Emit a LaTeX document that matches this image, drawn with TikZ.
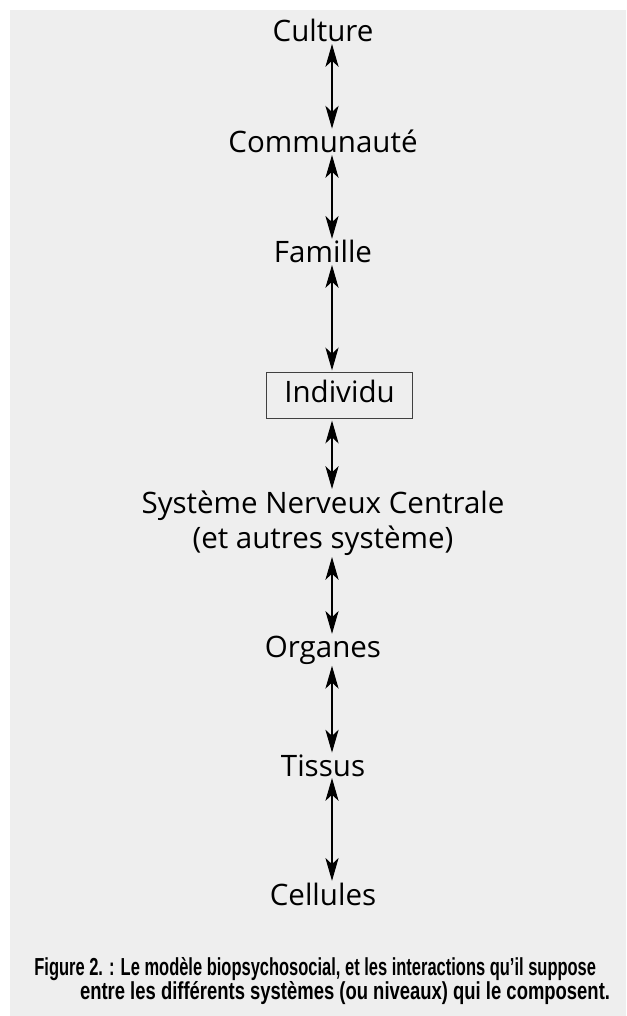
\documentclass[tikz,border=0pt]{standalone}
\usepackage{fontspec}
\setmainfont{Open Sans}
\newfontfamily\legendefont[FakeStretch=0.67]{Liberation Sans}
\newfontfamily\legendesuite[FakeStretch=0.75]{Liberation Sans}
\usetikzlibrary{arrows.meta}
\definecolor{fond}{HTML}{EEEEEE}

\begin{document}
\begin{tikzpicture}[>={Stealth[length=13pt,width=7.5pt,inset=3.5pt]}, x=0.02cm, y=-0.02cm,
  niveau/.style={inner sep=0pt, outer sep=1pt, font=\fontsize{16.8}{19.8}\selectfont, align=center},
  legende/.style={inner sep=0pt, font=\legendefont\bfseries\fontsize{14}{13.6}\selectfont, align=left},
  fleche/.style={<->, line width=0.6pt}]
  \useasboundingbox (0,0) rectangle (626,1016);
  \fill[fond] (10,10) rectangle (626,1016);
  \coordinate (a) at (332,0);
  \node[niveau, anchor=base] (C) at (323,42) {Culture};
  \node[niveau, anchor=base] (Co) at (323,153) {Communauté};
  \node[niveau, anchor=base] (F) at (323,263) {Famille};
  \node[niveau, draw=black!75, line width=0.7pt, minimum width=83.3pt, minimum height=26.6pt,
        text height=11.8pt, text depth=4.2pt] (I) at (339.5,395.5) {Individu};
  \node[niveau, anchor=north] (S) at (323,489) {Système Nerveux Centrale\\(et autres système)};
  \node[niveau, anchor=base] (O) at (323,657) {Organes};
  \node[niveau, anchor=base] (T) at (323,776) {Tissus};
  \node[niveau, anchor=base] (Ce) at (323,905) {Cellules};
  \node[legende, anchor=north west] (L) at (34,957)
    {Figure 2. : Le modèle biopsychosocial, et les interactions qu’il suppose\\
     \hspace*{26pt}{\legendesuite\bfseries entre les différents systèmes (ou niveaux) qui le composent.}};
  \draw[fleche] (C.south -| a) -- (Co.north -| a);
  \draw[fleche] (Co.south -| a) -- (F.north -| a);
  \draw[fleche] (F.south -| a) -- (I.north -| a);
  \draw[fleche] (I.south -| a) -- (S.north -| a);
  \draw[fleche] (S.south -| a) -- (O.north -| a);
  \draw[fleche] (O.south -| a) -- (T.north -| a);
  \draw[fleche] (T.south -| a) -- (Ce.north -| a);
\end{tikzpicture}
\end{document}
